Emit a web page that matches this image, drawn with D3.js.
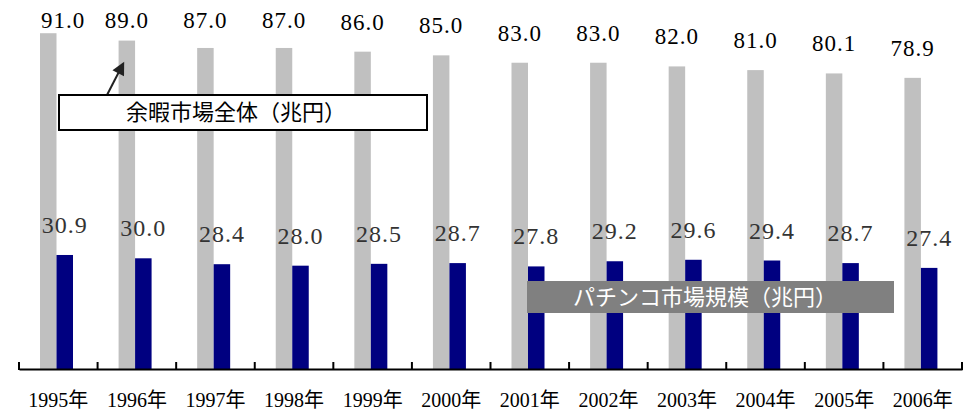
<!DOCTYPE html>
<html>
<head>
<meta charset="utf-8">
<script src="https://cdn.jsdelivr.net/npm/d3@7"></script>
<style>
    body { margin: 0; background: #fff; }
    svg { display: block; }
</style>
</head>
<body>
<svg></svg>
<script>
const years = ['1995', '1996', '1997', '1998', '1999', '2000', '2001', '2002', '2003', '2004', '2005', '2006'];
const leisureTotal = [91.0, 89.0, 87.0, 87.0, 86.0, 85.0, 83.0, 83.0, 82.0, 81.0, 80.1, 78.9];
const pachinko = [30.9, 30.0, 28.4, 28.0, 28.5, 28.7, 27.8, 29.2, 29.6, 29.4, 28.7, 27.4];
const seriesKeys = ['total', 'pachinko'];

const width = 969;
const height = 412;
const baseY = 369;

const svg = d3.select('svg')
    .attr('width', width)
    .attr('height', height);

const values = years.map((year, i) => ({ year, total: leisureTotal[i], pachinko: pachinko[i] }));

const xScale = d3.scaleBand()
    .domain(years)
    .range([19, 962]);

const x1 = d3.scaleBand()
    .domain(seriesKeys)
    .range([21, 54]);

const yScale = d3.scaleLinear()
    .domain([0, 100])
    .range([baseY, 0]);

const colors = { total: '#c0c0c0', pachinko: '#000080' };

// bars
const groups = svg.selectAll('g.year')
    .data(values)
    .enter()
    .append('g')
    .attr('class', 'year')
    .attr('transform', d => 'translate(' + xScale(d.year) + ',0)');

groups.selectAll('rect')
    .data(d => seriesKeys.map(k => ({ key: k, value: d[k] })))
    .enter()
    .append('rect')
    .attr('x', d => x1(d.key))
    .attr('width', x1.bandwidth())
    .attr('y', d => yScale(d.value))
    .attr('height', d => baseY - yScale(d.value))
    .attr('fill', d => colors[d.key]);

// value labels (kept inside the plot area at top / left)
groups.append('text')
    .attr('class', 'total-label')
    .attr('x', x1('total') + x1.bandwidth() / 2)
    .attr('y', d => Math.max(yScale(d.total) - 22, 28))
    .attr('text-anchor', 'middle')
    .style('font-family', '"Liberation Serif", serif')
    .style('font-size', '23px')
    .style('letter-spacing', '1px')
    .attr('fill', '#000')
    .text(d => d.total.toFixed(1));

svg.selectAll('text.total-label').each(function(d) {
    const t = d3.select(this);
    const w = this.getComputedTextLength();
    const left = xScale(d.year) + (+t.attr('x')) - w / 2;
    if (left < 41) t.attr('x', +t.attr('x') + (41 - left));
});

groups.append('text')
    .attr('x', x1('pachinko') + x1.bandwidth() / 2)
    .attr('y', d => yScale(d.pachinko) - 22)
    .attr('text-anchor', 'middle')
    .style('font-family', '"Liberation Serif", serif')
    .style('font-size', '24px')
    .style('letter-spacing', '1px')
    .attr('fill', '#333')
    .text(d => d.pachinko.toFixed(1));

// x axis
const xAxis = d3.axisBottom(xScale)
    .tickSize(0)
    .tickPadding(24)
    .tickFormat(d => d + '年');

const axisG = svg.append('g')
    .attr('transform', 'translate(0,' + baseY + ')')
    .call(xAxis);

axisG.select('.domain')
    .attr('stroke', '#000')
    .attr('stroke-width', 2);

axisG.selectAll('text')
    .style('font-family', '"Liberation Serif", "Noto Sans CJK JP", serif')
    .style('font-size', '20px')
    .attr('fill', '#000');

// boundary ticks between categories
const bounds = years.map(y => xScale(y)).concat([xScale.range()[1]]);
axisG.selectAll('line.bound')
    .data(bounds)
    .enter()
    .append('line')
    .attr('class', 'bound')
    .attr('x1', d => d)
    .attr('x2', d => d)
    .attr('y1', -7)
    .attr('y2', 1)
    .attr('stroke', '#000')
    .attr('stroke-width', 2);

// annotation: leisure total
svg.append('defs').append('marker')
    .attr('id', 'arrow')
    .attr('viewBox', '0 0 10 10')
    .attr('refX', 8)
    .attr('refY', 5)
    .attr('markerWidth', 7.5)
    .attr('markerHeight', 6.5)
    .attr('orient', 'auto')
    .append('path')
    .attr('d', 'M0,0 L10,5 L0,10 z')
    .attr('fill', '#222');

svg.append('line')
    .attr('x1', 107)
    .attr('y1', 95)
    .attr('x2', 123)
    .attr('y2', 64)
    .attr('stroke', '#222')
    .attr('stroke-width', 2)
    .attr('marker-end', 'url(#arrow)');

svg.append('rect')
    .attr('x', 59)
    .attr('y', 95)
    .attr('width', 368)
    .attr('height', 35)
    .attr('fill', '#fff')
    .attr('stroke', '#000')
    .attr('stroke-width', 2);

svg.append('text')
    .attr('x', 236)
    .attr('y', 120)
    .attr('text-anchor', 'middle')
    .style('font-family', '"Noto Sans CJK JP", sans-serif')
    .style('font-size', '22px')
    .attr('fill', '#000')
    .text('余暇市場全体（兆円）');

// annotation: pachinko
svg.append('rect')
    .attr('x', 527)
    .attr('y', 281)
    .attr('width', 367)
    .attr('height', 32)
    .attr('fill', '#808080');

svg.append('text')
    .attr('x', 705)
    .attr('y', 305)
    .attr('text-anchor', 'middle')
    .style('font-family', '"Noto Sans CJK JP", sans-serif')
    .style('font-size', '22px')
    .attr('fill', '#fff')
    .text('パチンコ市場規模（兆円）');
</script>
</body>
</html>
